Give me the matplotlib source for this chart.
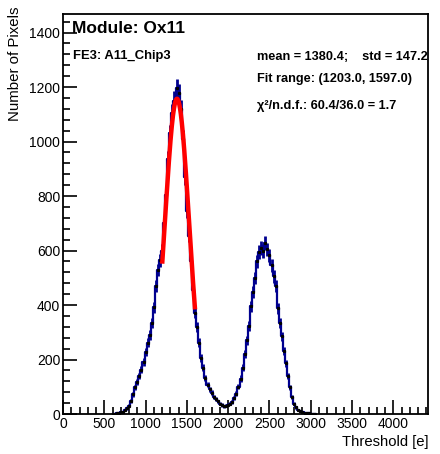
import matplotlib

matplotlib.use("Agg")
import matplotlib.pyplot as plt
import numpy as np
from matplotlib.ticker import MultipleLocator

plt.rcParams["font.family"] = ["Liberation Sans", "DejaVu Sans"]

# threshold histogram, bin centres every 25 e
thresholds = np.arange(600, 3075, 25)
counts = [
    0, 1, 2, 4, 7, 9, 15, 21, 30, 48,
    72, 98, 118, 140, 162, 190, 228, 262, 290, 335,
    392, 470, 528, 565, 598, 700, 805, 935, 1030, 1105,
    1150, 1195, 1178, 1120, 1010, 870, 745, 655, 560, 455,
    372, 318, 262, 205, 170, 132, 108, 90, 78, 63,
    55, 46, 38, 33, 28, 30, 34, 38, 45, 58,
    74, 100, 130, 170, 220, 270, 322, 395, 448, 500,
    560, 595, 610, 598, 628, 604, 582, 545, 505, 470,
    388, 335, 285, 232, 186, 140, 98, 62, 38, 24,
    15, 10, 7, 5, 3, 2, 1, 1, 0,
]
bin_width = 25

# gaussian fit result
fit_mean = 1380.4
fit_std = 147.2
fit_amp = 1157.0
fit_lo, fit_hi = 1203.0, 1597.0

counts = np.array(counts, dtype=float)
errors = np.sqrt(counts)

fig = plt.figure(figsize=(4.4, 4.54), dpi=100)
ax = fig.add_axes([0.1432, 0.0881, 0.8295, 0.8811])

blue = "#00008f"
ax.plot(thresholds, counts, drawstyle="steps-mid", color=blue, linewidth=1.6,
        zorder=2)
ax.errorbar(thresholds, counts, yerr=errors, fmt="none", ecolor=blue,
            elinewidth=2.0, capsize=0, zorder=2)
ax.plot(thresholds, counts, "s", color="black", markersize=1.3, zorder=3)

xf = np.linspace(fit_lo, fit_hi, 200)
yf = fit_amp * np.exp(-0.5 * ((xf - fit_mean) / fit_std) ** 2)
ax.plot(xf, yf, color="#ff0000", linewidth=3.2, zorder=4)

ax.set_xlim(0, 4420)
ax.set_ylim(0, 1468)
ax.xaxis.set_minor_locator(MultipleLocator(100))
ax.yaxis.set_major_locator(MultipleLocator(200))
ax.yaxis.set_minor_locator(MultipleLocator(40))
ax.set_xticks(np.arange(0, 4001, 500))
ax.tick_params(which="both", direction="in", top=False, right=False,
               width=1.2, labelsize=10, pad=2)
ax.tick_params(which="major", length=10)
ax.tick_params(which="minor", length=5)
for s in ax.spines.values():
    s.set_linewidth(1.3)

fig.text(0.973, 0.012, "Threshold [e]", ha="right", va="bottom", fontsize=10.7)
fig.text(0.018, 0.985, "Number of Pixels", ha="left", va="top",
         rotation=90, fontsize=10.8)

fig.text(72 / 440, 1 - 33 / 454, "Module: Ox11", fontsize=12.5,
         fontweight="bold", va="baseline")
fig.text(73 / 440, 1 - 59 / 454, "FE3: A11_Chip3", fontsize=9.4,
         fontweight="bold", va="baseline")
fig.text(257 / 440, 1 - 60 / 454, f"mean = {fit_mean:.1f};    std = {fit_std:.1f}",
         fontsize=9.2, fontweight="bold", va="baseline")
fig.text(257 / 440, 1 - 82 / 454, f"Fit range: ({fit_lo:.1f}, {fit_hi:.1f})",
         fontsize=9.2, fontweight="bold", va="baseline")
fig.text(257 / 440, 1 - 109 / 454, "χ²/n.d.f.: 60.4/36.0 = 1.7",
         fontsize=9.2, fontweight="bold", va="baseline")

fig.savefig("out.png", dpi=100)
plt.close(fig)
